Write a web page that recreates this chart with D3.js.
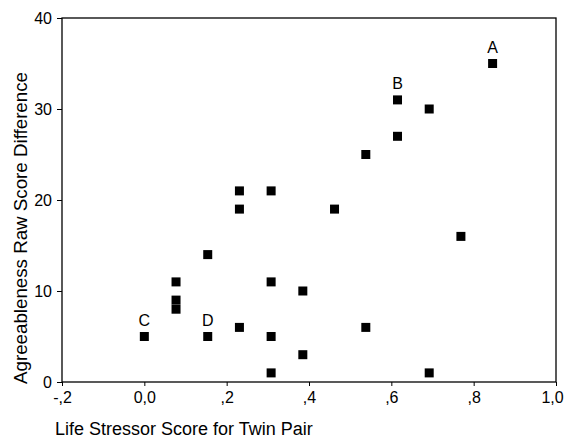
<!DOCTYPE html>
<html>
<head>
<meta charset="utf-8">
<script src="https://cdn.jsdelivr.net/npm/d3@7"></script>
<style>
  html, body { margin: 0; padding: 0; background: #fff; }
  svg { display: block; }
  text { font-family: "Liberation Sans", Arial, sans-serif; fill: #000; }
</style>
</head>
<body>
<svg id="chart" width="565" height="445"></svg>
<script>
// ---- data ----
const stressor = [0.846, 0.615, 0.692, 0.615, 0.538, 0.462, 0.231, 0.231, 0.308, 0.154, 0.077, 0.077,
                  0.077, 0.000, 0.154, 0.231, 0.308, 0.308, 0.308, 0.385, 0.385, 0.538, 0.692, 0.769];
const agreeDiff = [35, 31, 30, 27, 25, 19, 21, 19, 21, 14, 11, 9,
                   8, 5, 5, 6, 11, 5, 1, 10, 3, 6, 1, 16];
const pointLabels = ["A", "B", "", "", "", "", "", "", "", "", "", "",
                     "", "C", "D", "", "", "", "", "", "", "", "", ""];
const xTickValues = [-0.2, 0.0, 0.2, 0.4, 0.6, 0.8, 1.0];
const xTickLabels = ["-,2", "0,0", ",2", ",4", ",6", ",8", "1,0"];
const yTickValues = [0, 10, 20, 30, 40];
const yTickLabels = ["0", "10", "20", "30", "40"];
const xTitle = "Life Stressor Score for Twin Pair";
const yTitle = "Agreeableness Raw Score Difference";

// ---- layout ----
const svg = d3.select("#chart");
const mLeft = 62, mRight = 556, mTop = 18, mBottom = 382;

const x = d3.scaleLinear().domain([-0.2, 1.0]).range([mLeft, mRight]);
const y = d3.scaleLinear().domain([0, 40]).range([mBottom, mTop]);

// frame
svg.append("rect")
  .attr("x", mLeft).attr("y", mTop)
  .attr("width", mRight - mLeft).attr("height", mBottom - mTop)
  .attr("fill", "none").attr("stroke", "#000").attr("stroke-width", 1.3);

// x axis
const xAxis = d3.axisBottom(x)
  .tickValues(xTickValues)
  .tickSize(4)
  .tickFormat((d, i) => xTickLabels[i]);
const gx = svg.append("g").attr("transform", `translate(0,${mBottom})`).call(xAxis);
gx.select(".domain").remove();
gx.selectAll(".tick line").attr("stroke", "#000");
gx.selectAll(".tick text")
  .attr("y", 10)
  .attr("dy", "0.71em")
  .attr("dx", (d, i, n) => i === n.length - 1 ? -4 : 0)
  .style("font-size", "16px")
  .style("font-family", "'Liberation Sans', Arial, sans-serif")
  .attr("fill", "#000");

// y axis
const yAxis = d3.axisLeft(y)
  .tickValues(yTickValues)
  .tickSize(5)
  .tickFormat((d, i) => yTickLabels[i]);
const gy = svg.append("g").attr("transform", `translate(${mLeft},0)`).call(yAxis);
gy.select(".domain").remove();
gy.selectAll(".tick line").attr("stroke", "#000");
gy.selectAll(".tick text")
  .attr("x", -10)
  .style("font-size", "16px")
  .style("font-family", "'Liberation Sans', Arial, sans-serif")
  .attr("fill", "#000");

// points
const data = stressor.map((v, i) => ({ x: v, y: agreeDiff[i], label: pointLabels[i] }));
const sz = 9;
svg.append("g").selectAll("rect")
  .data(data)
  .join("rect")
  .attr("x", d => x(d.x) - sz / 2)
  .attr("y", d => y(d.y) - sz / 2)
  .attr("width", sz).attr("height", sz)
  .attr("fill", "#000");

// point labels
svg.append("g").selectAll("text")
  .data(data.filter(d => d.label))
  .join("text")
  .attr("x", d => x(d.x))
  .attr("y", d => y(d.y) - 10.5)
  .attr("text-anchor", "middle")
  .style("font-size", "16px")
  .text(d => d.label);

// axis titles
svg.append("text")
  .attr("x", 55).attr("y", 435)
  .style("font-size", "18px")
  .text(xTitle);

svg.append("text")
  .attr("transform", "translate(27,228) rotate(-90)")
  .attr("text-anchor", "middle")
  .attr("textLength", 312)
  .attr("lengthAdjust", "spacingAndGlyphs")
  .style("font-size", "18.5px")
  .text(yTitle);
</script>
</body>
</html>
